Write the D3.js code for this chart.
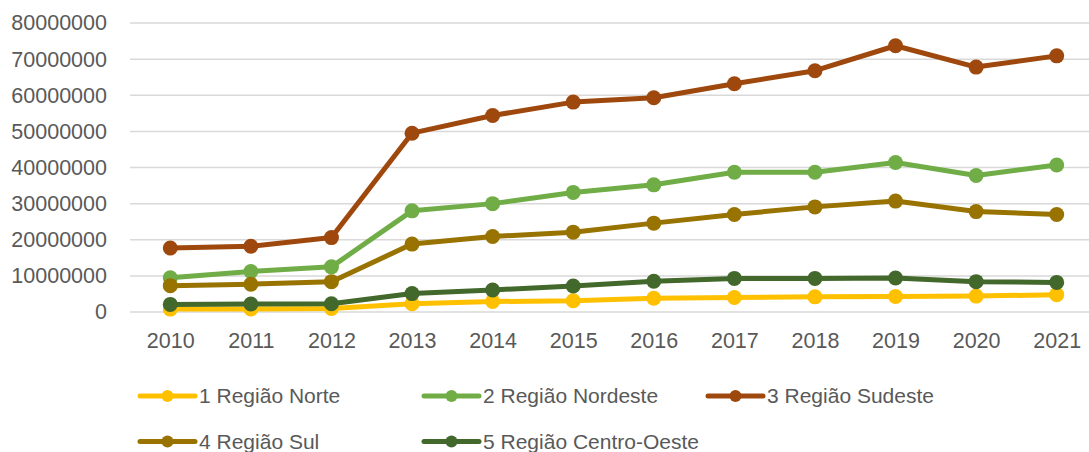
<!DOCTYPE html>
<html>
<head>
<meta charset="utf-8">
<script src="https://cdn.jsdelivr.net/npm/d3@7"></script>
<style>
  body { margin: 0; background: #fff; }
  text { font-family: "Liberation Sans", Arial, sans-serif; fill: #595959; }
</style>
</head>
<body>
<div id="chart"></div>
<script>
// Data
const years = ["2010", "2011", "2012", "2013", "2014", "2015", "2016", "2017", "2018", "2019", "2020", "2021"];
const norte = [800000, 850000, 1000000, 2300000, 2900000, 3100000, 3800000, 4000000, 4200000, 4300000, 4400000, 4800000];
const nordeste = [9500000, 11200000, 12500000, 28000000, 30000000, 33100000, 35200000, 38700000, 38700000, 41400000, 37800000, 40700000];
const sudeste = [17700000, 18200000, 20600000, 49500000, 54400000, 58100000, 59300000, 63200000, 66800000, 73700000, 67800000, 70900000];
const sul = [7300000, 7700000, 8400000, 18800000, 20900000, 22100000, 24600000, 27000000, 29100000, 30700000, 27800000, 27000000];
const centroOeste = [2100000, 2200000, 2300000, 5100000, 6100000, 7200000, 8500000, 9300000, 9300000, 9400000, 8400000, 8200000];
const yTicks = [0, 10000000, 20000000, 30000000, 40000000, 50000000, 60000000, 70000000, 80000000];

const series = [
  {name: "1 Região Norte", values: norte, color: "#FFC000"},
  {name: "2 Região Nordeste", values: nordeste, color: "#70AD47"},
  {name: "3 Região Sudeste", values: sudeste, color: "#9E480E"},
  {name: "4 Região Sul", values: sul, color: "#997300"},
  {name: "5 Região Centro-Oeste", values: centroOeste, color: "#43682B"}
];

const width = 1089, height = 452;
const svg = d3.select("#chart").append("svg")
    .attr("width", width)
    .attr("height", height);

const x = d3.scalePoint().domain(years).range([130, 1097]).padding(0.5);
const y = d3.scaleLinear().domain([0, 80000000]).range([312, 23]);

// gridlines
svg.append("g")
  .selectAll("line")
  .data(yTicks)
  .enter().append("line")
    .attr("x1", 130).attr("x2", 1097)
    .attr("y1", d => y(d)).attr("y2", d => y(d))
    .attr("stroke", "#D9D9D9")
    .attr("stroke-width", 1.5);

// y axis labels
const yAxis = d3.axisLeft(y).tickValues(yTicks).tickFormat(d3.format("d")).tickSize(0).tickPadding(0);
svg.append("g")
    .attr("transform", "translate(107,0)")
    .call(yAxis)
    .call(g => g.select(".domain").remove())
    .selectAll("text")
      .attr("fill", "#595959")
      .style("font-size", "21.5px")
      .style("font-family", "Liberation Sans, Arial, sans-serif");

// x axis labels
const xAxis = d3.axisBottom(x).tickSize(0).tickPadding(0);
svg.append("g")
    .attr("transform", "translate(0,333)")
    .call(xAxis)
    .call(g => g.select(".domain").remove())
    .selectAll("text")
      .attr("fill", "#595959")
      .style("font-size", "21.5px")
      .style("font-family", "Liberation Sans, Arial, sans-serif");

const line = d3.line()
    .x((d, i) => x(years[i]))
    .y(d => y(d));

series.forEach(s => {
  const g = svg.append("g");
  g.append("path")
    .datum(s.values)
    .attr("fill", "none")
    .attr("stroke", s.color)
    .attr("stroke-width", 5)
    .attr("stroke-linejoin", "round")
    .attr("d", line);
  g.selectAll("circle")
    .data(s.values)
    .enter().append("circle")
      .attr("cx", (d, i) => x(years[i]))
      .attr("cy", d => y(d))
      .attr("r", 7.5)
      .attr("fill", s.color);
});

// legend
const legend = svg.append("g");
series.forEach((s, i) => {
  const col = i < 3 ? i : i - 3;
  const row = i < 3 ? 0 : 1;
  const lx = 140 + col * 284;
  const ly = 396 + row * 45.5;
  const item = legend.append("g").attr("transform", "translate(" + lx + "," + ly + ")");
  item.append("line")
    .attr("x1", 0).attr("x2", 55)
    .attr("y1", 0).attr("y2", 0)
    .attr("stroke", s.color)
    .attr("stroke-width", 5)
    .attr("stroke-linecap", "round");
  item.append("circle")
    .attr("cx", 27.5).attr("cy", 0)
    .attr("r", 6)
    .attr("fill", s.color);
  item.append("text")
    .attr("x", 59)
    .attr("y", 0)
    .attr("dy", "0.35em")
    .style("font-size", "21px")
    .text(s.name);
});
</script>
</body>
</html>
